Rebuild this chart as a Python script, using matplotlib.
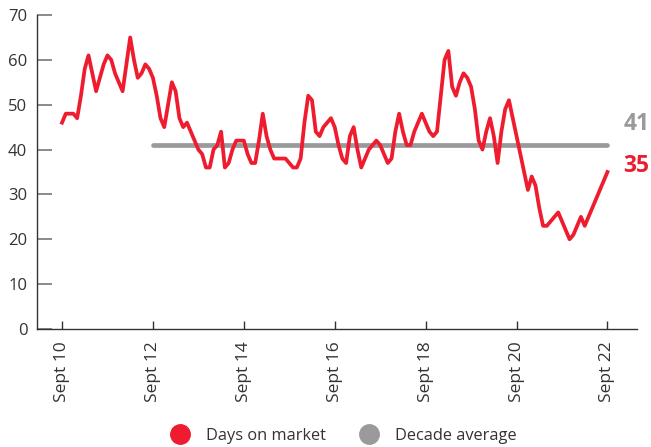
import matplotlib.pyplot as plt
from matplotlib.lines import Line2D

# ---------- data (monthly, Sept 2010 .. Sept 2022) ----------

days_on_market = [
    46, 48, 48, 48, 47, 52, 58, 61, 57, 53, 56, 59,
    61, 60, 57, 55, 53, 59, 65, 60, 56, 57, 59, 58,
    56, 52, 47, 45, 50, 55, 53, 47, 45, 46, 44, 42,
    40, 39, 36, 36, 40, 41, 44, 36, 37, 40, 42, 42,
    42, 39, 37, 37, 42, 48, 43, 40, 38, 38, 38, 38,
    37, 36, 36, 38, 46, 52, 51, 44, 43, 45, 46, 47,
    45, 41, 38, 37, 43, 45, 40, 36, 38, 40, 41, 42,
    41, 39, 37, 38, 44, 48, 44, 41, 41, 44, 46, 48,
    46, 44, 43, 44, 52, 60, 62, 54, 52, 55, 57, 56,
    54, 49, 42, 40, 44, 47, 43, 37, 44, 49, 51, 47,
    43, 39, 35, 31, 34, 32, 27, 23, 23, 24, 25, 26,
    24, 22, 20, 21, 23, 25, 23, 25, 27, 29, 31, 33,
    35,
]
decade_avg = 41
avg_start, avg_end = 24, 144  # Sept 12 .. Sept 22 (month index)

tick_months = [0, 24, 48, 72, 96, 120, 144]
tick_labels = ["Sept 10", "Sept 12", "Sept 14", "Sept 16",
               "Sept 18", "Sept 20", "Sept 22"]

RED = "#ee1c2e"
GREY = "#9a9a9d"
DARK = "#333333"

plt.rcParams["font.family"] = ["Open Sans", "DejaVu Sans"]

fig = plt.figure(figsize=(6.51, 4.47), dpi=100)
ax = fig.add_axes([37 / 651, 118 / 447, 600 / 651, 314 / 447])

months = list(range(len(days_on_market)))
ax.plot([avg_start, avg_end], [decade_avg, decade_avg], color=GREY,
        lw=3.4, solid_capstyle="round", zorder=2)
ax.plot(months, days_on_market, color=RED, lw=2.7, zorder=3)

ax.set_xlim(-6.6, 151.8)
ax.set_ylim(0, 70)

# end labels
ax.text(148.2, 45.6, str(decade_avg), color=GREY, fontsize=16.5,
        fontweight="bold", va="center", ha="left", clip_on=False)
ax.text(148.2, 36.3, str(days_on_market[-1]), color=RED, fontsize=16.5,
        fontweight="bold", va="center", ha="left", clip_on=False)

for s in ["top", "right"]:
    ax.spines[s].set_visible(False)
for s in ["left", "bottom"]:
    ax.spines[s].set_color(DARK)
    ax.spines[s].set_linewidth(1.0)

ax.set_yticks(range(0, 71, 10))
ax.tick_params(axis="y", direction="in", length=11, width=1.2,
               color="#777777", labelcolor=DARK, labelsize=12, pad=7)
ax.set_xticks(tick_months)
ax.set_xticklabels(tick_labels, rotation=90)
ax.tick_params(axis="x", direction="in", length=6, width=1,
               color=DARK, labelcolor=DARK, labelsize=12.5, pad=9)

handles = [
    Line2D([], [], ls="none", marker="o", markersize=14,
           markerfacecolor=RED, markeredgecolor=RED),
    Line2D([], [], ls="none", marker="o", markersize=14,
           markerfacecolor=GREY, markeredgecolor=GREY),
]
fig.legend(handles, ["Days on market", "Decade average"], loc="center",
           bbox_to_anchor=(0.522, 0.025), ncol=2, frameon=False,
           fontsize=11.8, labelcolor=DARK, handletextpad=0.6,
           columnspacing=1.6)

fig.savefig("out.png", dpi=100)
